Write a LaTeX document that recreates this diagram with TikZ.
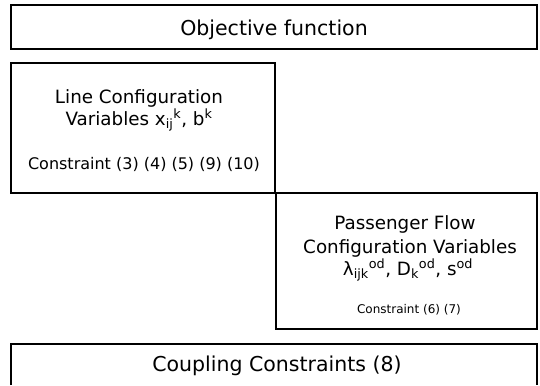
\documentclass[tikz,border=0pt]{standalone}
\usepackage{fontspec}
\setmainfont{DejaVu Sans}
\newcommand{\subix}[1]{\textsubscript{#1}}
\newcommand{\supix}[1]{\textsuperscript{#1}}
\tikzset{
  frame/.style={draw=black, line width=1.3bp},
  bigtext/.style={anchor=base, inner sep=0pt, font=\fontsize{20.5bp}{22bp}\selectfont},
  headtext/.style={anchor=base, inner sep=0pt, font=\fontsize{18.3bp}{20bp}\selectfont},
  constext/.style={anchor=base, inner sep=0pt, font=\fontsize{16bp}{18bp}\selectfont},
  smalltext/.style={anchor=base, inner sep=0pt, font=\fontsize{12bp}{14bp}\selectfont},
}

\begin{document}
\begin{tikzpicture}[x=1bp, y=1bp]
  \useasboundingbox (0,0) rectangle (540,385);

  %%%%% objective %%%%%
  \draw[frame] (11,336) rectangle (537,380);
  \node[bigtext] (obj) at (274,350) {Objective function};

  %%%%% line configuration %%%%%
  \draw[frame] (11,322) rectangle (275,192);
  \node[headtext] (linecfg) at (139,282) {Line Configuration};
  \node[headtext] (linevar) at (139,260) {Variables x\subix{ij}\supix{k}, b\supix{k}};
  \node[constext] (linecon) at (144,216) {Constraint (3) (4) (5) (9) (10)};

  %%%%% passenger flow %%%%%
  \draw[frame] (276,192) rectangle (537,56);
  \node[headtext] (flowcfg) at (405,156) {Passenger Flow};
  \node[headtext] (flowvar1) at (410,132) {Configuration Variables};
  \node[headtext] (flowvar2) at (408,110) {λ\subix{ijk}\supix{od}, D\subix{k}\supix{od}, s\supix{od}};
  \node[smalltext] (flowcon) at (409,72) {Constraint (6) (7)};

  %%%%% coupling, runs off the lower edge %%%%%
  \draw[frame] (11,0) -- (11,41) -- (537,41) -- (537,0);
  \node[bigtext] (coupling) at (277,14) {Coupling Constraints (8)};
\end{tikzpicture}
\end{document}
